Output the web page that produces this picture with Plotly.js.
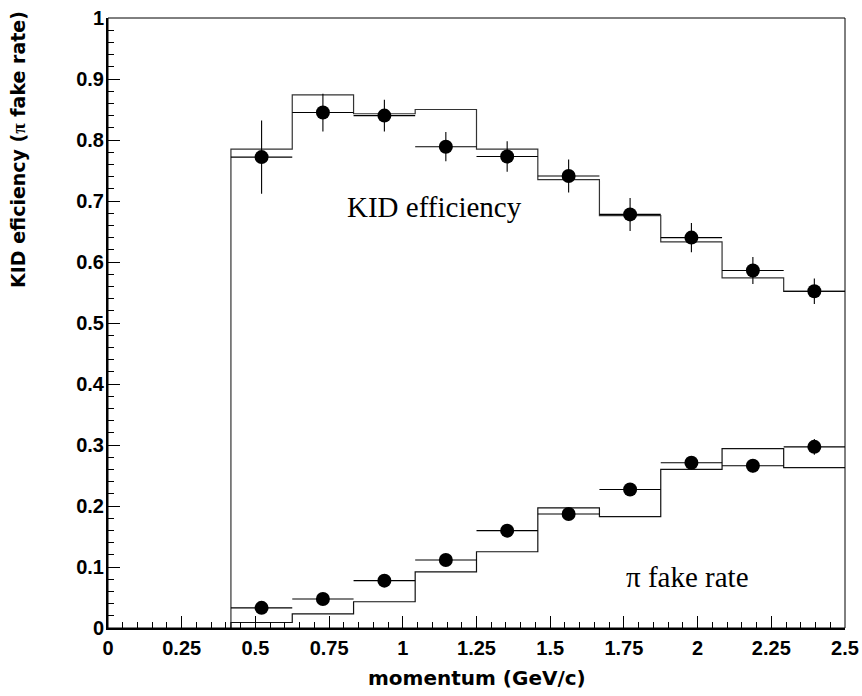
<!DOCTYPE html>
<html>
<head>
<meta charset="utf-8">
<script src="https://cdn.plot.ly/plotly-3.0.1.min.js"></script>
<style>html,body{margin:0;padding:0;background:#fff;}</style>
</head>
<body>
<div id="chart" style="width:862px;height:696px;"></div>
<script>
// bin edges (momentum, GeV/c)
const binEdges = [0.417, 0.625, 0.833, 1.042, 1.25, 1.458, 1.667, 1.875, 2.083, 2.292, 2.5];

// KID efficiency: data points, errors, and histogram
const effData = [0.772, 0.845, 0.840, 0.789, 0.773, 0.741, 0.678, 0.640, 0.586, 0.552];
const effErr  = [0.060, 0.031, 0.026, 0.024, 0.025, 0.027, 0.027, 0.024, 0.022, 0.021];
const effHist = [0.785, 0.874, 0.843, 0.850, 0.785, 0.735, 0.676, 0.633, 0.574, 0.552];

// pi fake rate: data points, errors, and histogram
const piData = [0.033, 0.0475, 0.0776, 0.1115, 0.1596, 0.187, 0.227, 0.271, 0.266, 0.297];
const piErr  = [0.006, 0.006, 0.007, 0.008, 0.009, 0.009, 0.010, 0.011, 0.011, 0.013];
const piHist = [0.009, 0.023, 0.043, 0.092, 0.125, 0.197, 0.1825, 0.260, 0.294, 0.263];

const xTickVals = [0, 0.25, 0.5, 0.75, 1, 1.25, 1.5, 1.75, 2, 2.25, 2.5];
const xTickText = ["0", "0.25", "0.5", "0.75", "1", "1.25", "1.5", "1.75", "2", "2.25", "2.5"];
const yTickVals = [0, 0.1, 0.2, 0.3, 0.4, 0.5, 0.6, 0.7, 0.8, 0.9, 1];
const yTickText = ["0", "0.1", "0.2", "0.3", "0.4", "0.5", "0.6", "0.7", "0.8", "0.9", "1"];

const centers = binEdges.slice(0, -1).map((e, i) => (e + binEdges[i + 1]) / 2);
const halfW = binEdges.slice(0, -1).map((e, i) => (binEdges[i + 1] - e) / 2);

function stepX() { return [binEdges[0]].concat(binEdges); }
function stepY(v) { return [0].concat(v, [v[v.length - 1]]); }

const traces = [
  {x: stepX(), y: stepY(effHist), mode: 'lines', line: {shape: 'hv', color: '#333', width: 1.2}, hoverinfo: 'skip', showlegend: false},
  {x: stepX(), y: stepY(piHist), mode: 'lines', line: {shape: 'hv', color: '#111', width: 1.2}, hoverinfo: 'skip', showlegend: false},
  {x: centers, y: effData, mode: 'markers', marker: {color: '#000', size: 14},
   error_x: {type: 'data', array: halfW, width: 0, thickness: 1.1, color: '#000'},
   error_y: {type: 'data', array: effErr, width: 0, thickness: 1.1, color: '#000'}, showlegend: false},
  {x: centers, y: piData, mode: 'markers', marker: {color: '#000', size: 14},
   error_x: {type: 'data', array: halfW, width: 0, thickness: 1.1, color: '#000'},
   error_y: {type: 'data', array: piErr, width: 0, thickness: 1.1, color: '#000'}, showlegend: false}
];

const tickFont = {family: 'Liberation Sans, Arial, sans-serif', size: 20, color: '#000', weight: 'bold'};

const layout = {
  width: 862, height: 696,
  margin: {l: 108, r: 17, t: 18, b: 68},
  paper_bgcolor: '#fff', plot_bgcolor: '#fff',
  showlegend: false,
  xaxis: {
    range: [0, 2.5], tickmode: 'array', tickvals: xTickVals, ticktext: xTickText,
    ticks: 'inside', ticklen: 12, tickwidth: 1, tickcolor: '#000',
    showline: true, linewidth: 2, linecolor: '#000', mirror: false,
    showgrid: false, zeroline: false, tickfont: tickFont, ticklabelstandoff: 1,
    minor: {dtick: 0.05, tick0: 0, ticks: 'inside', ticklen: 6, tickwidth: 1, tickcolor: '#000', showgrid: false}
  },
  yaxis: {
    range: [0, 1], tickmode: 'array', tickvals: yTickVals, ticktext: yTickText,
    ticks: 'inside', ticklen: 12, tickwidth: 1, tickcolor: '#000',
    showline: true, linewidth: 2, linecolor: '#000', mirror: false,
    showgrid: false, zeroline: false, tickfont: tickFont, ticklabelstandoff: -2,
    minor: {dtick: 0.02, tick0: 0, ticks: 'inside', ticklen: 6, tickwidth: 1, tickcolor: '#000', showgrid: false}
  },
  shapes: [
    {type: 'rect', xref: 'paper', yref: 'paper', x0: 0, x1: 1, y0: 0, y1: 1, line: {color: '#000', width: 1}, layer: 'above'}
  ],
  annotations: [
    {text: 'momentum (GeV/c)', xref: 'paper', yref: 'paper', x: 0.5, y: -0.082, xanchor: 'center', yanchor: 'middle',
     showarrow: false, font: {family: 'DejaVu Sans, sans-serif', size: 20, color: '#000', weight: 'bold'}},
    {text: 'KID eficiency (<span style="font-family:Liberation Serif">π</span> fake rate)', xref: 'paper', yref: 'paper',
     x: -0.1221, y: 0.7836, xanchor: 'center', yanchor: 'middle', textangle: -90,
     showarrow: false, font: {family: 'DejaVu Sans, sans-serif', size: 19, color: '#000', weight: 'bold'}},
    {text: 'KID efficiency', xref: 'x', yref: 'y', x: 1.106, y: 0.69, xanchor: 'center', yanchor: 'middle',
     showarrow: false, font: {family: 'Liberation Serif, Times New Roman, serif', size: 29, color: '#000'}},
    {text: 'π fake rate', xref: 'x', yref: 'y', x: 1.967, y: 0.0836, xanchor: 'center', yanchor: 'middle',
     showarrow: false, font: {family: 'Liberation Serif, Times New Roman, serif', size: 29, color: '#000'}}
  ]
};

Plotly.newPlot('chart', traces, layout, {staticPlot: true, displayModeBar: false});
</script>
</body>
</html>
